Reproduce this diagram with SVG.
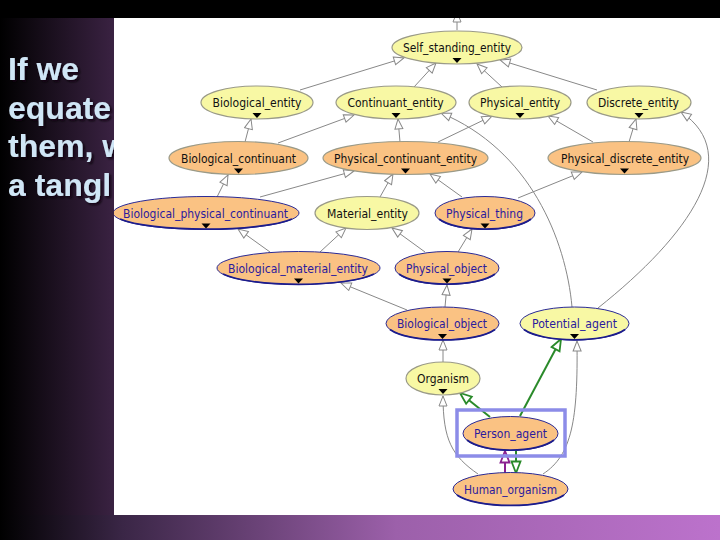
<svg xmlns="http://www.w3.org/2000/svg" width="720" height="540" viewBox="0 0 720 540">
<defs>
<linearGradient id="gLeft" x1="0" y1="0" x2="1" y2="0">
<stop offset="0" stop-color="#000000"/>
<stop offset="1" stop-color="#3a2242"/>
</linearGradient>
<linearGradient id="gBottom" x1="0" y1="0" x2="1" y2="0">
<stop offset="0" stop-color="#000000"/>
<stop offset="0.17" stop-color="#3a2646"/>
<stop offset="0.55" stop-color="#9c60aa"/>
<stop offset="1" stop-color="#bc72cc"/>
</linearGradient>
<filter id="shadow" x="-10%" y="-10%" width="130%" height="140%">
<feDropShadow dx="2" dy="2" stdDeviation="0.8" flood-color="#0a0410" flood-opacity="0.9"/>
</filter>
<clipPath id="panelClip"><rect x="114" y="18" width="606" height="497"/></clipPath>
<marker id="aGrey" markerUnits="userSpaceOnUse" markerWidth="13" markerHeight="11" refX="11.5" refY="5" orient="auto">
<path d="M1.5,1 L11.5,5 L1.5,9 Z" fill="#ffffff" stroke="#888888" stroke-width="1"/>
</marker>
<marker id="aGreen" markerUnits="userSpaceOnUse" markerWidth="15" markerHeight="13" refX="13" refY="6" orient="auto">
<path d="M1.5,1.5 L13,6 L1.5,10.5 Z" fill="#ffffff" stroke="#2a8a2a" stroke-width="1.8"/>
</marker>
<marker id="aPurple" markerUnits="userSpaceOnUse" markerWidth="15" markerHeight="13" refX="13" refY="6" orient="auto">
<path d="M1.5,1.5 L13,6 L1.5,10.5 Z" fill="#ffffff" stroke="#8a2090" stroke-width="1.8"/>
</marker>
</defs>
<style>
.slide{font-family:"Liberation Sans",Arial,sans-serif;font-weight:bold;font-size:32px;fill:#d0e6f6}
.edge{fill:none;stroke:#888888;stroke-width:1;marker-end:url(#aGrey)}
.green{fill:none;stroke:#2a8a2a;stroke-width:2;marker-end:url(#aGreen)}
.purple{fill:none;stroke:#8a2090;stroke-width:2;marker-end:url(#aPurple)}
.y{fill:#f8f8a4}
.o{fill:#fac283}
.gb{stroke:#9a9a88;stroke-width:1.2}
.bb{stroke:#2a2a96;stroke-width:1}
.bot{fill:none;stroke:#1c1c8c;stroke-width:1.7}
.lbl{font-family:"DejaVu Sans Condensed","DejaVu Sans",sans-serif;font-stretch:condensed;font-size:12px;text-anchor:middle;fill:#111111}
.bl{fill:#2a1a9e}
.tri{fill:#000000}
</style>
<rect x="0" y="0" width="720" height="540" fill="#000000"/>
<rect x="0" y="18" width="114" height="497" fill="url(#gLeft)"/>
<rect x="0" y="515" width="720" height="25" fill="url(#gBottom)"/>
<g id="slideText" filter="url(#shadow)">
<text class="slide" x="8" y="80">If we</text>
<text class="slide" x="8" y="118.5">equate</text>
<text class="slide" x="8" y="157">them, w</text>
<text class="slide" x="8" y="195.5">a tangl</text>
</g>
<rect id="panel" x="114" y="18" width="606" height="497" fill="#ffffff"/>
<g clip-path="url(#panelClip)">
<g id="connectors">
<line class="edge" x1="457" y1="30" x2="457" y2="12"/>
<line class="edge" x1="300" y1="90" x2="404" y2="58"/>
<line class="edge" x1="414" y1="87" x2="436" y2="63"/>
<line class="edge" x1="502" y1="87" x2="477" y2="64"/>
<line class="edge" x1="597" y1="90" x2="500" y2="60"/>
<line class="edge" x1="245" y1="142" x2="251" y2="119"/>
<line class="edge" x1="278" y1="143" x2="354" y2="115"/>
<line class="edge" x1="400" y1="142" x2="398" y2="119"/>
<line class="edge" x1="438" y1="142" x2="492" y2="116"/>
<line class="edge" x1="593" y1="142" x2="548" y2="116"/>
<line class="edge" x1="629" y1="142" x2="636" y2="119"/>
<path class="edge" d="M572,307 C566,240 530,150 441,113"/>
<path class="edge" d="M598,308 C690,235 745,155 681,112"/>
<line class="edge" x1="217" y1="197" x2="228" y2="175"/>
<line class="edge" x1="260" y1="197" x2="354" y2="171"/>
<line class="edge" x1="380" y1="197" x2="393" y2="174"/>
<line class="edge" x1="462" y1="197" x2="430" y2="174"/>
<line class="edge" x1="518" y1="198" x2="582" y2="172"/>
<line class="edge" x1="270" y1="252" x2="238" y2="229"/>
<line class="edge" x1="320" y1="252" x2="346" y2="228"/>
<line class="edge" x1="425" y1="252" x2="392" y2="228"/>
<line class="edge" x1="458" y1="252" x2="472" y2="229"/>
<line class="edge" x1="407" y1="310" x2="341" y2="283"/>
<line class="edge" x1="445" y1="307" x2="447" y2="285"/>
<line class="edge" x1="443" y1="362" x2="443" y2="340"/>
<path class="edge" d="M478,474 C452,456 443,440 443,396"/>
<path class="edge" d="M543,474 C572,455 578,420 577,341"/>
<line class="green" x1="490" y1="417" x2="460" y2="393"/>
<line class="green" x1="520" y1="416" x2="561" y2="339"/>
<line class="purple" x1="505" y1="473" x2="505" y2="451"/>
<line class="green" x1="516" y1="451" x2="516" y2="473"/>
</g>
<g id="n1"><ellipse class="y gb" cx="457" cy="47.5" rx="65" ry="16.5"/><text class="lbl" x="457" y="52" textLength="108" lengthAdjust="spacingAndGlyphs">Self_standing_entity</text><path class="tri" d="M452.5,58 h9 l-4.5,5 z"/></g>
<g id="n2"><ellipse class="y gb" cx="257" cy="102.5" rx="56" ry="16.5"/><text class="lbl" x="257" y="107" textLength="89" lengthAdjust="spacingAndGlyphs">Biological_entity</text><path class="tri" d="M252.5,113 h9 l-4.5,5 z"/></g>
<g id="n3"><ellipse class="y gb" cx="396" cy="102.5" rx="60" ry="16.5"/><text class="lbl" x="395.5" y="107" textLength="96" lengthAdjust="spacingAndGlyphs">Continuant_entity</text><path class="tri" d="M391.5,113 h9 l-4.5,5 z"/></g>
<g id="n4"><ellipse class="y gb" cx="520" cy="102.5" rx="51" ry="16.5"/><text class="lbl" x="520" y="107" textLength="80" lengthAdjust="spacingAndGlyphs">Physical_entity</text><path class="tri" d="M515.5,113 h9 l-4.5,5 z"/></g>
<g id="n5"><ellipse class="y gb" cx="639" cy="102.5" rx="52" ry="16.5"/><text class="lbl" x="638.5" y="107" textLength="81" lengthAdjust="spacingAndGlyphs">Discrete_entity</text><path class="tri" d="M634.5,113 h9 l-4.5,5 z"/></g>
<g id="n6"><ellipse class="o gb" cx="238.5" cy="158" rx="69.5" ry="16.5"/><text class="lbl" x="238.5" y="162.5" textLength="115" lengthAdjust="spacingAndGlyphs">Biological_continuant</text><path class="tri" d="M234,168.5 h9 l-4.5,5 z"/></g>
<g id="n7"><ellipse class="o gb" cx="405.5" cy="158" rx="82.5" ry="16.5"/><text class="lbl" x="405.5" y="162.5" textLength="143" lengthAdjust="spacingAndGlyphs">Physical_continuant_entity</text><path class="tri" d="M401,168.5 h9 l-4.5,5 z"/></g>
<g id="n8"><ellipse class="o gb" cx="624.5" cy="158" rx="76.5" ry="16.5"/><text class="lbl" x="625" y="162.5" textLength="128" lengthAdjust="spacingAndGlyphs">Physical_discrete_entity</text><path class="tri" d="M620,168.5 h9 l-4.5,5 z"/></g>
<g id="n9"><ellipse class="o bb" cx="206" cy="213" rx="93" ry="16.5"/><path class="bot" d="M120,219 A93,16.5 0 0 0 292,219"/><text class="lbl bl" x="205.5" y="217.5" textLength="165" lengthAdjust="spacingAndGlyphs">Biological_physical_continuant</text><path class="tri" d="M201.5,223.5 h9 l-4.5,5 z"/></g>
<g id="n10"><ellipse class="y gb" cx="367" cy="213" rx="52" ry="16.5"/><text class="lbl" x="367.5" y="217.5" textLength="81" lengthAdjust="spacingAndGlyphs">Material_entity</text></g>
<g id="n11"><ellipse class="o bb" cx="485" cy="213" rx="50" ry="16.5"/><path class="bot" d="M439,219 A50,16.5 0 0 0 531,219"/><text class="lbl bl" x="484.5" y="217.5" textLength="77" lengthAdjust="spacingAndGlyphs">Physical_thing</text><path class="tri" d="M480.5,223.5 h9 l-4.5,5 z"/></g>
<g id="n12"><ellipse class="o bb" cx="298.5" cy="268" rx="81.5" ry="16.5"/><path class="bot" d="M223,274 A81.5,16.5 0 0 0 374,274"/><text class="lbl bl" x="298" y="272.5" textLength="140" lengthAdjust="spacingAndGlyphs">Biological_material_entity</text><path class="tri" d="M294,278.5 h9 l-4.5,5 z"/></g>
<g id="n13"><ellipse class="o bb" cx="447" cy="268" rx="52" ry="16.5"/><path class="bot" d="M399,274 A52,16.5 0 0 0 495,274"/><text class="lbl bl" x="446.5" y="272.5" textLength="81" lengthAdjust="spacingAndGlyphs">Physical_object</text><path class="tri" d="M442.5,278.5 h9 l-4.5,5 z"/></g>
<g id="n14"><ellipse class="o bb" cx="442.5" cy="323.5" rx="56.5" ry="16.5"/><path class="bot" d="M390,329.5 A56.5,16.5 0 0 0 495,329.5"/><text class="lbl bl" x="442" y="328" textLength="90" lengthAdjust="spacingAndGlyphs">Biological_object</text><path class="tri" d="M438,334 h9 l-4.5,5 z"/></g>
<g id="n15"><ellipse class="y bb" cx="574.5" cy="323.5" rx="54.5" ry="16.5"/><path class="bot" d="M524,329.5 A54.5,16.5 0 0 0 625,329.5"/><text class="lbl bl" x="574.5" y="328" textLength="85" lengthAdjust="spacingAndGlyphs">Potential_agent</text><path class="tri" d="M570,334 h9 l-4.5,5 z"/></g>
<g id="n16"><ellipse class="y gb" cx="443" cy="378.5" rx="37" ry="16.5"/><text class="lbl" x="443" y="383" textLength="52" lengthAdjust="spacingAndGlyphs">Organism</text><path class="tri" d="M438.5,389 h9 l-4.5,5 z"/></g>
<g id="n17"><rect x="457" y="410" width="108" height="46" fill="none" stroke="#8c8ce8" stroke-width="3.5"/><ellipse class="o bb" cx="510.5" cy="433.5" rx="47.5" ry="17"/><path class="bot" d="M467,440 A47.5,17 0 0 0 554,440"/><text class="lbl bl" x="510.5" y="438" textLength="73" lengthAdjust="spacingAndGlyphs">Person_agent</text></g>
<g id="n18"><ellipse class="o bb" cx="510.5" cy="489" rx="57.5" ry="16.5"/><path class="bot" d="M457,495 A57.5,16.5 0 0 0 564,495"/><text class="lbl bl" x="510.5" y="493.5" textLength="93" lengthAdjust="spacingAndGlyphs">Human_organism</text></g>
</g>
</svg>
